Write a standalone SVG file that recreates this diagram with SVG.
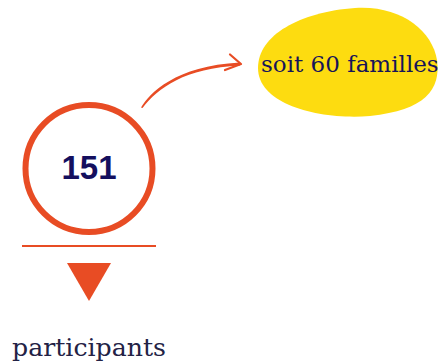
<svg xmlns="http://www.w3.org/2000/svg" width="444" height="362" viewBox="0 0 444 362">
<style>
.orange{fill:#E84C24}
.num{font-family:"Liberation Sans",Arial,sans-serif;font-weight:bold;font-size:33px;fill:#140F5E}
.lbl{font-family:"DejaVu Serif","Liberation Serif",serif}
</style>
<rect width="444" height="362" fill="#ffffff"/>
<g id="node-families">
<path d="M258,68 C258,35 300,12 355,8 C400,5 432,30 437,60 C441,90 425,110 370,116 C320,120 258,105 258,68 Z" fill="#FDDC10"/>
<text class="lbl" x="261" y="72" font-size="23" fill="#171459">soit 60 familles</text>
</g>
<g id="node-151">
<circle cx="89" cy="168.5" r="63.5" fill="#ffffff" stroke="#E84C24" stroke-width="6"/>
<text class="num" x="89" y="179" text-anchor="middle">151</text>
</g>
<g id="node-participants">
<line x1="22" y1="246" x2="156" y2="246" stroke="#E84C24" stroke-width="2"/>
<polygon class="orange" points="67,263 111,263 89,301"/>
<text class="lbl" x="12" y="356" font-size="24.5" fill="#232245" textLength="154" lengthAdjust="spacingAndGlyphs">participants</text>
</g>
<g id="connectors">
<path class="orange" d="M141,107.5 C150,93 175,66 240,62.5 L240,65.5 C185,68 158,88 142.5,108 Z"/>
<path d="M230,54.5 L241,64 L225,70" fill="none" stroke="#E84C24" stroke-width="2.2" stroke-linecap="round" stroke-linejoin="round"/>
</g>
</svg>
